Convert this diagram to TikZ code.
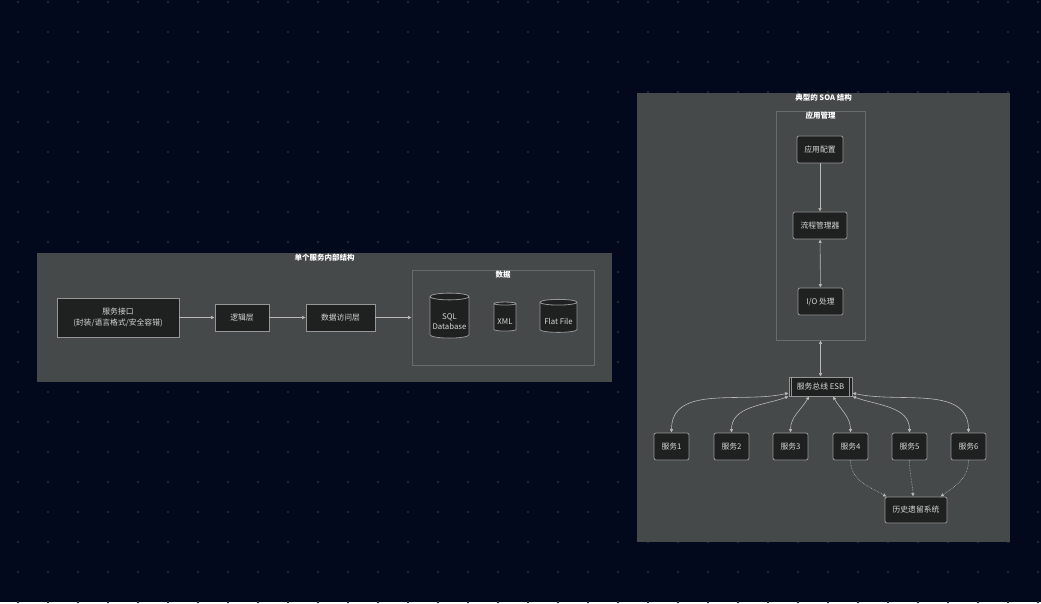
\documentclass[tikz,border=0pt]{standalone}
\usepackage{fontspec}
\setmainfont{Noto Sans CJK SC}
\usetikzlibrary{shapes.geometric,arrows.meta}
\definecolor{bgc}{RGB}{2,9,28}
\definecolor{dotc}{RGB}{32,39,54}
\definecolor{panelc}{RGB}{69,73,74}
\definecolor{grpc}{RGB}{104,108,109}
\definecolor{nodefill}{RGB}{31,32,32}
\definecolor{nodeline}{RGB}{150,150,150}
\definecolor{nodetext}{RGB}{215,215,215}
\definecolor{linkc}{RGB}{185,185,185}
\tikzset{
  box/.style={draw=nodeline,line width=0.8pt,fill=nodefill,text=nodetext,
    font=\fontsize{7.8}{11.5}\selectfont,inner sep=0pt,align=center},
  rbox/.style={box,rounded corners=2pt},
  db/.style={box,cylinder,shape border rotate=90,aspect=0.2},
  panel/.style={fill=panelc,inner sep=0pt},
  grp/.style={draw=grpc,line width=0.8pt,inner sep=0pt},
  title/.style={text=white,font=\bfseries\fontsize{7.5}{9}\selectfont,anchor=north,inner sep=1pt},
  link/.style={draw=linkc,line width=0.6pt,-{Latex[length=3.5pt,width=3.5pt]}},
  both/.style={link,{Latex[length=3.5pt,width=3.5pt]}-{Latex[length=3.5pt,width=3.5pt]}},
  legacylink/.style={link,densely dotted},
}
\newcommand{\dbtext}[1]{\raisebox{-4.5pt}[\height][\depth]{\begin{tabular}{@{}c@{}}#1\end{tabular}}}
\begin{document}
\begin{tikzpicture}[x=1pt,y=1pt]
% background with dot grid
\fill[bgc] (0,0) rectangle (1041,602);
\foreach \i in {0,...,34}
  \foreach \j in {0,...,20}
    \fill[dotc] (18+30*\i,600-30*\j) circle (1.3);

% single service
\node[panel,minimum width=575,minimum height=129] (single) at (324.5,284.5) {};
\node[title] (singletitle) at (single.north) {单个服务内部结构};
\node[box,minimum width=122,minimum height=39] (iface) at (118,284.5) {服务接口\\(封装/语言格式/安全容错)};
\node[box,minimum width=54,minimum height=27] (logic) at (242,284.5) {逻辑层};
\node[box,minimum width=69,minimum height=27] (dao) at (340.5,284.5) {数据访问层};
\node[grp,minimum width=182,minimum height=95] (data) at (503,284.5) {};
\node[title] (datatitle) at (data.north) {数据};
\node[db,minimum width=39,minimum height=45] (sql) at (449.5,284.5) {\dbtext{SQL\\[-1pt]Database}};
\node[db,minimum width=22,minimum height=29] (xml) at (505,284.5) {\dbtext{XML}};
\node[db,minimum width=37,minimum height=33] (flat) at (558.5,284.5) {\dbtext{Flat File}};

\draw[link] (iface) -- (logic);
\draw[link] (logic) -- (dao);
\draw[link] (dao) -- (data);

% typical SOA
\node[panel,minimum width=373,minimum height=449] (soa) at (823.5,284.5) {};
\node[title] (soatitle) at (soa.north) {典型的 SOA 结构};
\node[grp,minimum width=89,minimum height=229] (app) at (820.5,376.5) {};
\node[title] (apptitle) at (app.north) {应用管理};
\node[rbox,minimum width=46,minimum height=27] (cfg) at (820,452.5) {应用配置};
\node[rbox,minimum width=54,minimum height=27] (flow) at (820,376.5) {流程管理器};
\node[rbox,minimum width=45,minimum height=27] (io) at (820.5,300.5) {I/O 处理};
\node[box,minimum width=63,minimum height=19] (esb) at (820.5,215.5) {服务总线 ESB};
\draw[nodeline,line width=0.8pt] ([xshift=3pt]esb.north west) -- ([xshift=3pt]esb.south west)
  ([xshift=-3pt]esb.north east) -- ([xshift=-3pt]esb.south east);
\foreach \n/\x in {1/671.5,2/731.5,3/790.5,4/850.5,5/909.5,6/968.5}
  \node[rbox,minimum width=35,minimum height=27] (s\n) at (\x,155.5) {服务\n};
\node[rbox,minimum width=62,minimum height=26] (legacy) at (916,92) {历史遗留系统};

\draw[link] (cfg) -- (flow);
\draw[both] (flow) -- (io);
\draw[both] (app) -- (esb);

\draw[both] ([yshift=-6.5pt]esb.west) to[out=193,in=90] (s1.north);
\draw[both] (esb.south west) to[out=200,in=90] (s2.north);
\draw[both] ([xshift=-11.5pt]esb.south) to[out=240,in=90] (s3.north);
\draw[both] ([xshift=12.5pt]esb.south) to[out=-60,in=90] (s4.north);
\draw[both] (esb.south east) to[out=-20,in=90] (s5.north);
\draw[both] ([yshift=-6.5pt]esb.east) to[out=-13,in=90] (s6.north);

\draw[legacylink] (s4.south) to[out=-90,in=150] ([xshift=2pt]legacy.north west);
\draw[legacylink] (s5.south) to[out=-90,in=92] ([xshift=-3pt]legacy.north);
\draw[legacylink] (s6.south) to[out=-90,in=35] ([xshift=-7pt]legacy.north east);
\end{tikzpicture}
\end{document}
